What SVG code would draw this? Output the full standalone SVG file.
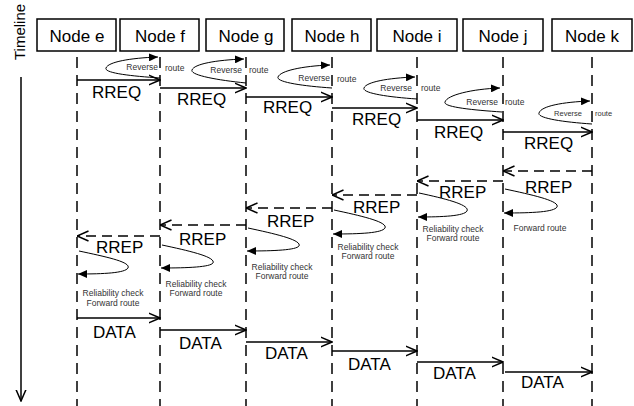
<svg xmlns="http://www.w3.org/2000/svg" width="634" height="406" viewBox="0 0 634 406">
<style>
.box{fill:#fff;stroke:#000;stroke-width:1.5}
.nt{font-family:"Liberation Sans",Arial,sans-serif;font-size:17px;fill:#000;text-anchor:middle}
.life{stroke:#000;stroke-width:1.5;stroke-dasharray:11 7;fill:none}
.msg{stroke:#000;stroke-width:1.5;fill:none;marker-end:url(#open)}
.rrep{stroke-dasharray:10 6}
.loop{stroke:#000;stroke-width:1;fill:none;marker-end:url(#fill)}
.ml{font-family:"Liberation Sans",Arial,sans-serif;font-size:17px;fill:#000}
.sm{font-family:"Liberation Sans",Arial,sans-serif;font-size:8.5px;fill:#333}
.smc{font-family:"Liberation Sans",Arial,sans-serif;font-size:8.5px;fill:#333;text-anchor:middle}
</style>
<defs>
<marker id="open" markerUnits="userSpaceOnUse" viewBox="0 0 12 12" markerWidth="12" markerHeight="12" refX="11.5" refY="6" orient="auto">
<path d="M0,1 L11.5,6 L0,11" fill="none" stroke="#000" stroke-width="1.5" stroke-dasharray="none"/>
</marker>
<marker id="fill" markerUnits="userSpaceOnUse" viewBox="0 0 9 8" markerWidth="9" markerHeight="8" refX="9" refY="4" orient="auto">
<path d="M0,0 L9,4 L0,8 z" fill="#000"/>
</marker>
</defs>

<g id="timeline">
<text class="nt" style="text-anchor:start;font-size:15px" transform="translate(25,60) rotate(-90)">Timeline</text>
<line x1="21" y1="77" x2="21" y2="401" class="msg"/>
</g>

<g id="node-e"><rect class="box" x="37" y="19" width="79" height="32"/><text class="nt" x="77" y="42">Node e</text><line class="life" x1="77" y1="57" x2="77" y2="406"/></g>
<g id="node-f"><rect class="box" x="120" y="19" width="79" height="32"/><text class="nt" x="160" y="42">Node f</text><line class="life" x1="160" y1="57" x2="160" y2="406"/></g>
<g id="node-g"><rect class="box" x="206" y="19" width="78" height="32"/><text class="nt" x="246" y="42">Node g</text><line class="life" x1="246" y1="57" x2="246" y2="406"/></g>
<g id="node-h"><rect class="box" x="292" y="19" width="79" height="32"/><text class="nt" x="332" y="42">Node h</text><line class="life" x1="332" y1="57" x2="332" y2="406"/></g>
<g id="node-i"><rect class="box" x="377" y="19" width="80" height="32"/><text class="nt" x="417" y="42">Node i</text><line class="life" x1="417" y1="57" x2="417" y2="406"/></g>
<g id="node-j"><rect class="box" x="463" y="19" width="80" height="32"/><text class="nt" x="503" y="42">Node j</text><line class="life" x1="503" y1="57" x2="503" y2="406"/></g>
<g id="node-k"><rect class="box" x="552" y="19" width="80" height="32"/><text class="nt" x="592" y="42">Node k</text><line class="life" x1="592" y1="57" x2="592" y2="406"/></g>

<g id="connectors">
<!-- RREQ -->
<line class="msg" x1="77" y1="80" x2="160" y2="80"/>
<line class="msg" x1="160" y1="88" x2="246" y2="88"/>
<line class="msg" x1="246" y1="97" x2="332" y2="97"/>
<line class="msg" x1="332" y1="108" x2="417" y2="108"/>
<line class="msg" x1="417" y1="120" x2="503" y2="120"/>
<line class="msg" x1="503" y1="132" x2="592" y2="132"/>
<!-- Reverse route loops -->
<path class="loop" d="M160,78 C130,76 104,73 106,68 C108,62 130,58 158,57"/>
<path class="loop" d="M246,83 C216,80 190,75 192,70 C194,64 216,60 244,59"/>
<path class="loop" d="M332,88 C302,86 276,82 278,77 C280,71 302,66 330,65"/>
<path class="loop" d="M417,99 C387,97 362,93 364,88 C366,82 388,78 415,77"/>
<path class="loop" d="M502,112 C472,110 443,107 445,102 C447,95 472,89 500,88"/>
<path class="loop" d="M592,124 C562,122 537,118 539,113 C541,106 563,102 590,101"/>
<!-- RREP -->
<line class="msg rrep" x1="592" y1="171" x2="503" y2="171"/>
<line class="msg rrep" x1="503" y1="181" x2="417" y2="181"/>
<line class="msg rrep" x1="417" y1="195" x2="332" y2="195"/>
<line class="msg rrep" x1="332" y1="208" x2="246" y2="208"/>
<line class="msg rrep" x1="246" y1="225" x2="160" y2="225"/>
<line class="msg rrep" x1="160" y1="236" x2="77" y2="236"/>
<!-- Forward route loops -->
<path class="loop" d="M505,189 C533,195 560,201 557,207 C554,212 533,213 504,213"/>
<path class="loop" d="M419,193 C447,199 470,205 467,211 C464,216 443,217 418,217"/>
<path class="loop" d="M334,210 C362,216 388,222 385,228 C382,233 361,234 333,234"/>
<path class="loop" d="M248,228 C276,234 302,240 299,246 C296,250 275,251 247,251"/>
<path class="loop" d="M162,245 C190,251 216,257 213,263 C210,267 189,268 161,268"/>
<path class="loop" d="M79,251 C107,257 131,262 128,268 C125,273 104,274 78,274"/>
<!-- DATA -->
<line class="msg" x1="77" y1="318" x2="160" y2="318"/>
<line class="msg" x1="160" y1="330" x2="246" y2="330"/>
<line class="msg" x1="246" y1="342" x2="332" y2="342"/>
<line class="msg" x1="332" y1="351" x2="417" y2="351"/>
<line class="msg" x1="417" y1="362" x2="503" y2="362"/>
<line class="msg" x1="505" y1="372" x2="592" y2="372"/>
</g>

<g id="labels">
<text class="ml" x="92" y="98">RREQ</text>
<text class="ml" x="177" y="105">RREQ</text>
<text class="ml" x="263" y="113">RREQ</text>
<text class="ml" x="352" y="125">RREQ</text>
<text class="ml" x="434" y="138">RREQ</text>
<text class="ml" x="524" y="149">RREQ</text>

<text class="sm" x="158" y="70" text-anchor="end">Reverse</text><text class="sm" x="165" y="71">route</text>
<text class="sm" x="242" y="73" text-anchor="end">Reverse</text><text class="sm" x="249" y="73">route</text>
<text class="sm" x="330" y="81" text-anchor="end">Reverse</text><text class="sm" x="337" y="82">route</text>
<text class="sm" x="412" y="91" text-anchor="end">Reverse</text><text class="sm" x="421" y="91">route</text>
<text class="sm" x="498" y="105" text-anchor="end">Reverse</text><text class="sm" x="505" y="105">route</text>
<text class="sm" x="582" y="116" text-anchor="end" style="font-size:7.5px">Reverse</text><text class="sm" x="595" y="116" style="font-size:7.5px">route</text>

<text class="ml" x="525" y="193">RREP</text>
<text class="ml" x="439" y="198">RREP</text>
<text class="ml" x="353" y="213">RREP</text>
<text class="ml" x="267" y="227">RREP</text>
<text class="ml" x="179" y="245">RREP</text>
<text class="ml" x="96" y="253">RREP</text>

<text class="smc" x="540" y="231">Forward route</text>
<text class="smc" x="453" y="232">Reliability check</text><text class="smc" x="453" y="241">Forward route</text>
<text class="smc" x="368" y="250">Reliability check</text><text class="smc" x="368" y="259">Forward route</text>
<text class="smc" x="282" y="270">Reliability check</text><text class="smc" x="282" y="279">Forward route</text>
<text class="smc" x="196" y="287">Reliability check</text><text class="smc" x="196" y="296">Forward route</text>
<text class="smc" x="113" y="296">Reliability check</text><text class="smc" x="113" y="306">Forward route</text>

<text class="ml" x="93" y="338">DATA</text>
<text class="ml" x="179" y="349">DATA</text>
<text class="ml" x="265" y="359">DATA</text>
<text class="ml" x="348" y="370">DATA</text>
<text class="ml" x="433" y="379">DATA</text>
<text class="ml" x="521" y="388">DATA</text>
</g>
</svg>
